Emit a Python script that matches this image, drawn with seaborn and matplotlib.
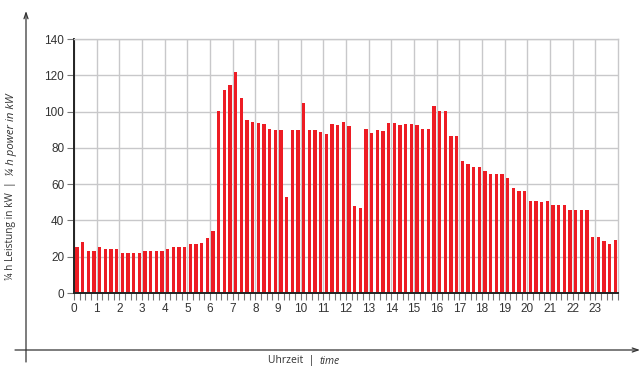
import numpy as np
import matplotlib
matplotlib.use("Agg")
import matplotlib.pyplot as plt
import seaborn as sns

# 1/4-h Leistung in kW, 4 Werte pro Stunde (0:00 ... 23:45)
power_kw = [
    25.6, 27.9, 23.4, 23.4,      # 0
    25.1, 24.0, 24.0, 24.0,      # 1
    22.3, 22.3, 22.3, 22.3,      # 2
    22.9, 22.9, 22.9, 23.4,      # 3
    24.0, 25.1, 25.6, 25.6,      # 4
    26.8, 26.8, 27.3, 30.1,      # 5
    33.9, 100.4, 112.0, 114.8,   # 6
    122.0, 107.6, 95.4, 94.3,    # 7
    93.7, 93.2, 90.4, 89.9,      # 8
    89.9, 52.8, 89.9, 89.9,      # 9
    104.8, 89.9, 89.9, 88.7,     # 10
    87.6, 93.2, 92.6, 94.3,      # 11
    92.1, 47.8, 46.7, 90.4,      # 12
    88.2, 89.9, 89.3, 93.7,      # 13
    93.7, 92.6, 93.2, 93.2,      # 14
    92.6, 90.4, 90.4, 103.1,     # 15
    100.4, 100.4, 86.5, 86.5,    # 16
    72.7, 71.0, 69.4, 69.4,      # 17
    67.2, 65.5, 65.5, 65.5,      # 18
    63.3, 57.7, 56.1, 56.1,      # 19
    50.6, 50.6, 50.0, 50.6,      # 20
    48.3, 48.3, 48.3, 45.6,      # 21
    45.6, 45.6, 45.6, 30.6,      # 22
    30.6, 28.4, 26.8, 29.0,      # 23
]
hour_labels = [str(h) for h in range(24)]
y_ticks = [0, 20, 40, 60, 80, 100, 120, 140]

RED = '#ed1c24'
GRID = '#c8c8ca'
TXT = '#333333'

sns.set_theme(style="whitegrid", rc={"grid.color": GRID, "grid.linewidth": 1.0})
plt.rcParams['font.family'] = ['Liberation Sans', 'DejaVu Sans']

fig = plt.figure(figsize=(6.41, 3.66), dpi=100)
ax = fig.add_axes([74 / 641, 73 / 366, 544 / 641, 254 / 366])

quarter = np.arange(len(power_kw))
sns.barplot(x=quarter, y=power_kw, native_scale=True, width=0.55,
            color=RED, saturation=1, linewidth=0, ax=ax)

off = 0.525  # Balken sitzen leicht rechts vom Viertelstunden-Anfang
ax.set_xlim(-off, 96 - off)
ax.set_ylim(0, 140)
ax.set_xticks([4 * h - off for h in range(24)])
ax.set_xticklabels(hour_labels)
ax.set_xticks([k - off for k in range(97)], minor=True)
ax.set_yticks(y_ticks)
ax.set_yticklabels([str(v) for v in y_ticks])

ax.grid(True, which='major', color=GRID, linewidth=1.0)
ax.grid(False, which='minor')
ax.set_axisbelow(True)

ax.tick_params(axis='both', which='major', labelsize=8.5, labelcolor=TXT,
               color='#777777', length=5, width=0.8, pad=2)
ax.tick_params(axis='x', which='minor', color='#777777', length=5, width=0.8)
ax.tick_params(axis='x', which='both', bottom=True)
ax.tick_params(axis='y', left=True)

for side in ['top', 'right']:
    ax.spines[side].set_color(GRID)
    ax.spines[side].set_linewidth(1.0)
for side in ['left', 'bottom']:
    ax.spines[side].set_color('#222222')
    ax.spines[side].set_linewidth(1.4)

ax.set_xlabel('')
ax.set_ylabel('')

# äußere Pfeilachsen
arrow = dict(arrowstyle='->,head_length=0.35,head_width=0.12', color='#333333', lw=0.9,
             shrinkA=0, shrinkB=0)
ax.annotate('', xy=(26, 366 - 11), xytext=(26, 366 - 362), xycoords='figure pixels',
            textcoords='figure pixels', arrowprops=arrow, annotation_clip=False)
ax.annotate('', xy=(640, 366 - 350), xytext=(15, 366 - 350), xycoords='figure pixels',
            textcoords='figure pixels', arrowprops=arrow, annotation_clip=False)

lab_font = ['Open Sans', 'DejaVu Sans']
fig.text(320 / 641, 1 - 361 / 366, 'Uhrzeit  |  ', ha='right', va='center',
         fontsize=7.5, color=TXT, family=lab_font)
fig.text(320 / 641, 1 - 361 / 366, 'time', ha='left', va='center',
         fontsize=7.5, color=TXT, family=lab_font, style='italic')
fig.text(11 / 641, 1 - 176 / 366, '¼ h Leistung in kW  |  ', ha='center', va='top',
         rotation=90, fontsize=7.3, color=TXT, family=lab_font)
fig.text(11 / 641, 1 - 176 / 366, '¼ h power in kW', ha='center', va='bottom',
         rotation=90, fontsize=8.2, color=TXT, family=lab_font, style='italic')

fig.savefig('out.png', dpi=100)
